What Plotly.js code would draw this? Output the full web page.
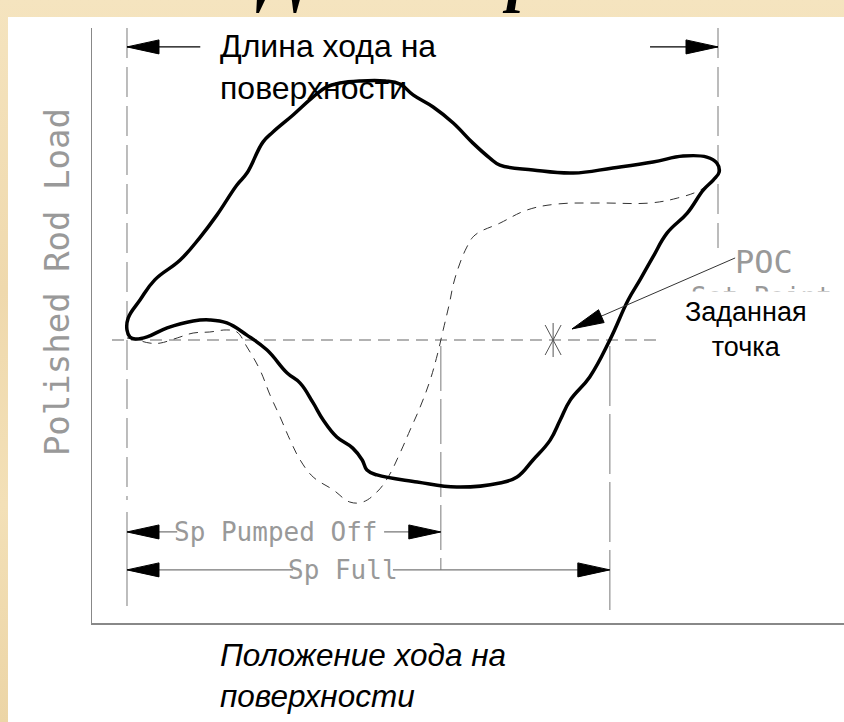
<!DOCTYPE html>
<html><head><meta charset="utf-8">
<script src="https://cdn.plot.ly/plotly-3.0.1.min.js"></script>
<style>
html,body{margin:0;padding:0;width:844px;height:722px;overflow:hidden;}
body{position:relative;background:linear-gradient(180deg,#f5e4bf 0%,#efd9ad 40%,#f3e0b7 70%,#ecd5a6 100%);}
#title{position:absolute;left:0;width:952px;text-align:center;top:-54px;font-family:"Liberation Serif";font-style:italic;font-weight:bold;font-size:64px;line-height:64px;color:#000;white-space:nowrap;}
#plot{position:absolute;left:8px;top:17px;width:836px;height:705px;background:#fff;}
</style></head><body>
<div id="title">Динамограмма</div>
<div id="plot"></div>
<script>
// ---- data (position in % of surface stroke, load in % of peak) ----
const cardX = [0,0.2,2.2,4.7,9.0,12.4,15.2,18.6,20.3,23.0,24.7,28.1,31.5,33.8,36.0,39.4,43.7,46.2,48.4,51.8,55.2,58.5,61.4,63.1,68.7,75.5,82.2,89.0,94.1,98.1,99.8,100.2,99.2,97.5,94.8,91.4,89.0,86.8,84.8,81.7,78.3,75.0,73.3,71.6,68.7,66.0,63.1,55.8,49.1,42.3,40.6,39.8,38.2,35.5,33.2,31.5,29.3,27.1,23.7,20.3,16.9,14.0,11.2,6.8,3.4,1.4,0.5,0];
const cardY = [3.9,8.5,15.5,23.3,31.0,39.9,48.4,60.1,64.7,76.7,80.6,87.2,94.2,98.1,99.6,100.4,100.4,99.2,95.0,90.3,84.1,76.4,70.5,67.8,65.9,64.7,66.7,69.0,71.3,70.9,68.6,65.1,62.0,58.1,49.2,41.5,32.2,23.3,15.5,0,-14.3,-23.3,-31.0,-38.8,-46.5,-53.1,-55.4,-57.0,-55.0,-52.3,-50.4,-46.5,-41.9,-37.6,-31.0,-24.4,-16.7,-12.8,-3.9,1.9,6.6,7.8,7.4,4.7,1.2,0.4,1.2,3.9];
const offX = [0,1.7,3.9,5.6,8.5,11.2,14.0,16.9,18.6,20.3,22.5,24.2,25.9,27.6,29.3,31.5,34.9,37.7,39.9,42.3,44.2,46.2,47.9,49.6,51.3,52.5,53.5,54.5,55.5,57.5,58.9,63.1,67.7,72.8,80.0,88.5,93.1,97.0,99.2];
const offY = [0.8,0,-1.2,-1.2,0.8,2.7,3.1,3.9,3.1,-2.7,-11.6,-21.3,-29.8,-38.8,-46.5,-53.1,-58.1,-62.8,-62.8,-58.9,-53.1,-43.8,-34.9,-26.0,-15.5,-5.8,3.9,13.6,24.0,36.0,40.7,45.3,50.4,52.7,53.1,53.1,55.0,58.1,62.0];
const strokeLength = 100;
const spPumpedOff = 53.1;
const spFull = 81.7;
const setPointX = 72.1, setPointY = 0;
const pocTail = [102.9, 31.8];
const pocTip = [75.3, 4.3];

// ---- layout geometry ----
const W = 836, H = 705;
const M = {l:84, r:0, t:11, b:99};
const xr = [-5.92, 121.32], yr = [-109.69, 120.93];
const kx = (W - M.l - M.r) / (xr[1] - xr[0]);
const ky = (H - M.t - M.b) / (yr[1] - yr[0]);
const yTopDim = 113.6, yPumped = -74.4, yFull = -89.1;
const GREY = '#999';
const CAD = 'DejaVu Sans Mono';

function seg(xs, ys, color, width, dash) {
  return {type:'scatter', mode:'lines', x:xs, y:ys, hoverinfo:'skip',
          line:{color:color, width:width, dash:dash||'solid'}};
}
function head(tx, ty, fx, fy, L, Wd) {
  const ux = (tx - fx) * kx, uy = (ty - fy) * ky;
  const n = Math.hypot(ux, uy), dx = ux / n, dy = uy / n;
  const bx = -dx * L, by = -dy * L, nx = -dy * Wd, ny = dx * Wd;
  return {type:'scatter', mode:'lines', hoverinfo:'skip', fill:'toself', fillcolor:'#000',
          x:[tx, tx + (bx + nx) / kx, tx + (bx - nx) / kx, tx],
          y:[ty, ty + (by + ny) / ky, ty + (by - ny) / ky, ty],
          line:{color:'#000', width:1}};
}
function star(cx, cy) {
  const sp = [[0,17],[8,15],[-8,15]];
  const xs = [], ys = [];
  sp.forEach(([a,b]) => { xs.push(cx + a/kx, cx - a/kx, null); ys.push(cy + b/ky, cy - b/ky, null); });
  return {type:'scatter', mode:'lines', x:xs, y:ys, hoverinfo:'skip', line:{color:'#555', width:1}};
}

const traces = [
  seg([0,0],[yr[1],-62],'#999',1.3,'30px,9px'),
  seg([0,0],[-66.7,-103.1],'#999',1.3),
  seg([strokeLength,strokeLength],[yr[1],35.7],'#999',1.3,'30px,9px'),
  seg([spPumpedOff,spPumpedOff],[-2.3,-89.1],'#999',1.3,'45px,8px'),
  seg([spFull,spFull],[-2.3,-105.4],'#999',1.3,'60px,8px'),
  seg([-2.54,89.8],[0,0],'#999',1.5,'12px,7px'),
  {type:'scatter', mode:'lines', x:offX, y:offY, hoverinfo:'skip',
   line:{color:'#333', width:1, dash:'9px,7px', shape:'spline', smoothing:1.1}},
  {type:'scatter', mode:'lines', x:cardX, y:cardY, hoverinfo:'skip',
   line:{color:'#000', width:3.5, shape:'spline', smoothing:1.2}},
  star(setPointX, setPointY),
  seg([0,12.4],[yTopDim,yTopDim],'#000',1.2),
  seg([88.5,strokeLength],[yTopDim,yTopDim],'#000',1.2),
  head(0,yTopDim,10,yTopDim,32,7),
  head(strokeLength,yTopDim,90,yTopDim,32,7),
  seg([0,8.5],[yPumped,yPumped],'#777',1.2),
  seg([43.5,spPumpedOff],[yPumped,yPumped],'#777',1.2),
  head(0,yPumped,10,yPumped,32,7),
  head(spPumpedOff,yPumped,40,yPumped,32,7),
  seg([0,28.1],[yFull,yFull],'#777',1.2),
  seg([45.0,spFull],[yFull,yFull],'#777',1.2),
  head(0,yFull,10,yFull,32,7),
  head(spFull,yFull,60,yFull,32,7),
  seg([pocTail[0],pocTip[0]],[pocTail[1],pocTip[1]],'#333',1),
  head(pocTip[0],pocTip[1],pocTail[0],pocTail[1],32,7)
];

const annotations = [
  {x:15.4, y:106, xref:'x', yref:'y', xanchor:'left', yanchor:'middle', align:'left', showarrow:false,
   text:'Длина хода на<br>поверхности', font:{family:'Liberation Sans', size:32, color:'#000'}},
  {x:107.8, y:30.2, xref:'x', yref:'y', xanchor:'center', showarrow:false, text:'POC',
   font:{family:CAD, size:32, color:GREY}},
  {x:107.4, y:16.7, xref:'x', yref:'y', xanchor:'center', showarrow:false, text:'Set Point',
   font:{family:CAD, size:26, color:GREY}},
  // white patch that hides most of the English "Set Point" label
  {x:107.1, y:0.8, xref:'x', yref:'y', xanchor:'center', yanchor:'middle', showarrow:false, text:' ',
   width:168, height:92, bgcolor:'#fff', borderpad:0, font:{size:10}},
  {x:104.7, y:3.9, xref:'x', yref:'y', xanchor:'center', showarrow:false, text:'Заданная<br>точка',
   font:{family:'Liberation Sans', size:27, color:'#000'}},
  {x:25.2, y:yPumped, xref:'x', yref:'y', xanchor:'center', showarrow:false, text:'Sp Pumped Off',
   font:{family:CAD, size:26, color:GREY}},
  {x:36.5, y:yFull, xref:'x', yref:'y', xanchor:'center', showarrow:false, text:'Sp Full',
   font:{family:CAD, size:26, color:GREY}},
  {x:-0.0465, y:0.573, xref:'paper', yref:'paper', xanchor:'center', yanchor:'middle', showarrow:false, textangle:-90,
   text:'Polished Rod Load', font:{family:CAD, size:34, color:GREY}},
  {x:0.1676, y:-0.0874, xref:'paper', yref:'paper', xanchor:'left', yanchor:'middle', align:'left',
   showarrow:false, text:'Положение хода на<br>поверхности',
   font:{family:'Liberation Sans', size:31.5, color:'#000', style:'italic'}}
];

const layout = {
  width:W, height:H, margin:M, showlegend:false,
  paper_bgcolor:'#fff', plot_bgcolor:'#fff',
  xaxis:{range:xr, showgrid:false, zeroline:false, showticklabels:false, ticks:'',
         showline:true, linecolor:'#888', linewidth:1.5, fixedrange:true},
  yaxis:{range:yr, showgrid:false, zeroline:false, showticklabels:false, ticks:'',
         showline:true, linecolor:'#888', linewidth:1.5, fixedrange:true},
  annotations:annotations
};
Plotly.newPlot('plot', traces, layout, {displayModeBar:false, staticPlot:true});
</script></body></html>
